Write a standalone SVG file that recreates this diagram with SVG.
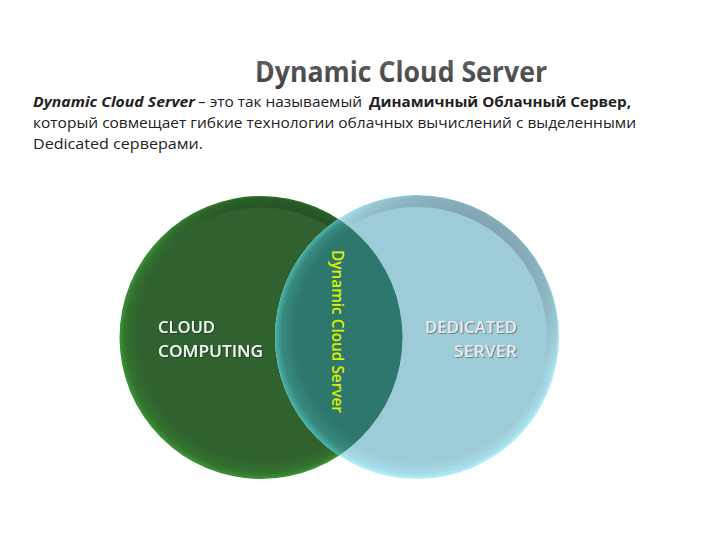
<svg xmlns="http://www.w3.org/2000/svg" width="720" height="540" viewBox="0 0 720 540">
  <defs>
    <style>
      .para { font-family: "Open Sans", "Liberation Sans", sans-serif; font-size: 14.5px; fill: #222222; }
      .b { font-weight: bold; }
      .bi { font-weight: bold; font-style: italic; }
      .title { font-family: "Open Sans", "Liberation Sans", sans-serif; font-size: 28px; font-weight: bold; }
      .lbl { font-family: "Open Sans", "Liberation Sans", sans-serif; font-size: 17px; font-weight: 600; }
      .vert { font-family: "Open Sans", "Liberation Sans", sans-serif; font-size: 16px; font-weight: 600; fill: #dcf000; }
    </style>
    <linearGradient id="titleGrad" x1="0" y1="0" x2="0" y2="1">
      <stop offset="0" stop-color="#6a6a6a"/>
      <stop offset="1" stop-color="#3c3c3c"/>
    </linearGradient>
    <radialGradient id="greenRim" cx="0.5" cy="0.5" r="0.5" fx="0.64" fy="0.36">
      <stop offset="0" stop-color="#2f622f"/>
      <stop offset="0.9" stop-color="#2f622f"/>
      <stop offset="0.97" stop-color="#33732f"/>
      <stop offset="1" stop-color="#3d9438"/>
    </radialGradient>
    <linearGradient id="greenTop" x1="0.6" y1="0" x2="0.3" y2="1">
      <stop offset="0" stop-color="#1f431f" stop-opacity="0.55"/>
      <stop offset="0.3" stop-color="#1f431f" stop-opacity="0"/>
      <stop offset="1" stop-color="#1f431f" stop-opacity="0"/>
    </linearGradient>
    <radialGradient id="blueRim" cx="0.5" cy="0.5" r="0.5" fx="0.62" fy="0.38">
      <stop offset="0" stop-color="#9dcbd8"/>
      <stop offset="0.9" stop-color="#9dcbd8"/>
      <stop offset="0.97" stop-color="#a6dbe6"/>
      <stop offset="1" stop-color="#b2f2fb"/>
    </radialGradient>
    <linearGradient id="blueTop" x1="0.8" y1="0.1" x2="0.3" y2="0.9">
      <stop offset="0" stop-color="#6f8c98" stop-opacity="0.65"/>
      <stop offset="0.35" stop-color="#6f8c98" stop-opacity="0"/>
      <stop offset="1" stop-color="#6f8c98" stop-opacity="0"/>
    </linearGradient>
    <radialGradient id="tealRim" cx="0.5" cy="0.5" r="0.5" fx="0.62" fy="0.38">
      <stop offset="0" stop-color="#2e776c"/>
      <stop offset="0.88" stop-color="#2e776c"/>
      <stop offset="0.96" stop-color="#37897e"/>
      <stop offset="1" stop-color="#4ab3a6"/>
    </radialGradient>
    <clipPath id="leftClip">
      <circle cx="261" cy="337.5" r="141.5"/>
    </clipPath>
    <mask id="ringMaskL">
      <circle cx="261" cy="337.5" r="141.5" fill="#fff"/>
      <circle cx="261" cy="337.5" r="130" fill="#000"/>
    </mask>
    <mask id="ringMaskR">
      <circle cx="417" cy="337" r="142" fill="#fff"/>
      <circle cx="417" cy="337" r="130" fill="#000"/>
    </mask>
    <filter id="shadowW" x="-10%" y="-20%" width="120%" height="150%">
      <feDropShadow dx="0.8" dy="0.8" stdDeviation="0.6" flood-color="#0f2a0f" flood-opacity="0.8"/>
    </filter>
    <filter id="shadowG" x="-10%" y="-20%" width="120%" height="150%">
      <feDropShadow dx="0.8" dy="0.8" stdDeviation="0.5" flood-color="#5e6a70" flood-opacity="1"/>
    </filter>
  </defs>

  <rect width="720" height="540" fill="#ffffff"/>

  <g id="title">
    <text class="title" x="255" y="82" textLength="292" lengthAdjust="spacingAndGlyphs" fill="url(#titleGrad)">Dynamic Cloud Server</text>
  </g>

  <g id="paragraph">
    <text class="para bi" x="33" y="107" textLength="162" lengthAdjust="spacingAndGlyphs">Dynamic Cloud Server</text>
    <text class="para" x="198" y="107" textLength="164" lengthAdjust="spacingAndGlyphs">– это так называемый</text>
    <text class="para b" x="369" y="107" textLength="262" lengthAdjust="spacingAndGlyphs">Динамичный Облачный Сервер,</text>
    <text class="para" x="33" y="128" textLength="603" lengthAdjust="spacingAndGlyphs">который совмещает гибкие технологии облачных вычислений с выделенными</text>
    <text class="para" x="33" y="149" textLength="170" lengthAdjust="spacingAndGlyphs">Dedicated серверами.</text>
  </g>

  <g id="node-cloud-computing">
    <circle cx="261" cy="337.5" r="141.5" fill="url(#greenRim)"/>
    <circle cx="261" cy="337.5" r="141.5" fill="url(#greenTop)" mask="url(#ringMaskL)"/>
  </g>

  <g id="node-dedicated-server">
    <circle cx="417" cy="337" r="142" fill="url(#blueRim)"/>
    <circle cx="417" cy="337" r="142" fill="url(#blueTop)" mask="url(#ringMaskR)"/>
  </g>

  <g id="node-dynamic-cloud-server">
    <g clip-path="url(#leftClip)">
      <circle cx="417" cy="337" r="142" fill="url(#tealRim)"/>
      <circle cx="417" cy="337" r="142" fill="url(#blueTop)" mask="url(#ringMaskR)" opacity="0.6"/>
    </g>
  </g>

  <g id="labels">
    <g filter="url(#shadowW)">
      <text class="lbl" x="158" y="333" fill="#f4f4f4" textLength="57" lengthAdjust="spacingAndGlyphs">CLOUD</text>
      <text class="lbl" x="158" y="357" fill="#f4f4f4" textLength="105" lengthAdjust="spacingAndGlyphs">COMPUTING</text>
    </g>
    <g filter="url(#shadowG)">
      <text class="lbl" x="517" y="333" fill="#eaeaea" text-anchor="end" textLength="92" lengthAdjust="spacingAndGlyphs">DEDICATED</text>
      <text class="lbl" x="517" y="357" fill="#eaeaea" text-anchor="end" textLength="63" lengthAdjust="spacingAndGlyphs">SERVER</text>
    </g>
    <text class="vert" transform="translate(332,250) rotate(90)" x="0" y="0" textLength="163" lengthAdjust="spacingAndGlyphs">Dynamic Cloud Server</text>
  </g>
</svg>
